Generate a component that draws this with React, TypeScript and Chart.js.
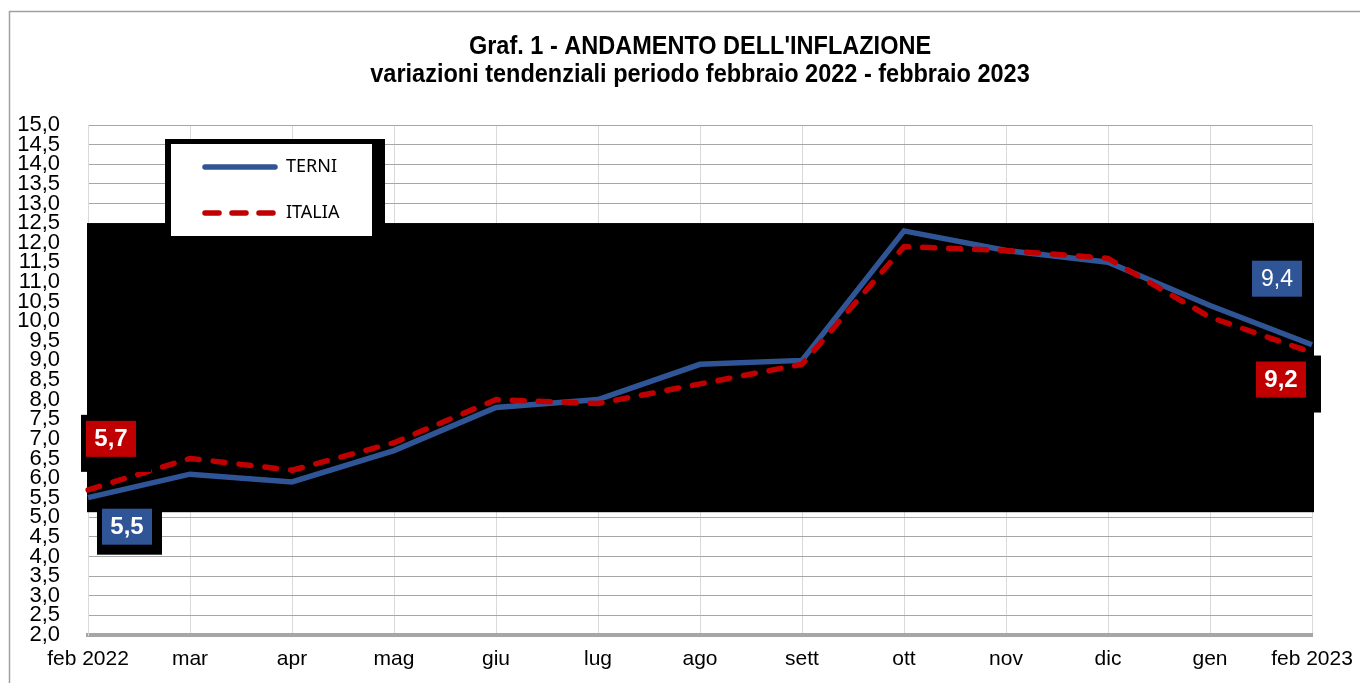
import React, { useEffect, useRef } from "react";
import { Chart, registerables } from "chart.js";

Chart.register(...registerables);

const categories = ["feb 2022", "mar", "apr", "mag", "giu", "lug", "ago", "sett", "ott", "nov", "dic", "gen", "feb 2023"];
const terni = [5.5, 6.1, 5.9, 6.7, 7.8, 8.0, 8.9, 9.0, 12.3, 11.8, 11.5, 10.4, 9.4];
const italia = [5.7, 6.5, 6.2, 6.9, 8.0, 7.9, 8.4, 8.9, 11.9, 11.8, 11.6, 10.1, 9.2];
const titleLines = ["Graf. 1 - ANDAMENTO DELL'INFLAZIONE", "variazioni tendenziali periodo febbraio 2022 - febbraio 2023"];
const seriesNames = ["TERNI", "ITALIA"];
const yMin = 2;
const yMax = 15;
const yStep = 0.5;
const blackBandTop = 12.5;
const blackBandBottom = 5.13;

const BLUE = "#2f5597";
const RED = "#c00000";

const fmt = (v: number) => v.toFixed(1).replace(".", ",");

type LabelSpec = { ds: number; idx: number; dx: number; dy: number; bold: boolean; color: string; shadow?: { l: number; t: number; r: number; b: number } };

const labelSpecs: LabelSpec[] = [
  { ds: 0, idx: 0, dx: 23, dy: -51, bold: true, color: RED, shadow: { l: 5, t: 6, r: 15, b: 15 } },
  { ds: 1, idx: 0, dx: 39, dy: 29, bold: true, color: BLUE, shadow: { l: 5, t: 6, r: 10, b: 10 } },
  { ds: 1, idx: 12, dx: -35, dy: -66, bold: false, color: BLUE },
  { ds: 0, idx: 12, dx: -31, dy: 27, bold: true, color: RED, shadow: { l: 6, t: 6, r: 15, b: 15 } },
];

const overlayPlugin = {
  id: "overlay",
  beforeDraw(chart: any) {
    const ctx = chart.ctx;
    ctx.save();
    ctx.fillStyle = "#ffffff";
    ctx.fillRect(0, 0, chart.width, chart.height);
    ctx.strokeStyle = "#a0a0a0";
    ctx.lineWidth = 1.5;
    ctx.beginPath();
    ctx.moveTo(9.5, chart.height + 5);
    ctx.lineTo(9.5, 11.5);
    ctx.lineTo(chart.width + 5, 11.5);
    ctx.stroke();
    ctx.fillStyle = "#000000";
    ctx.font = "bold 25px 'Liberation Sans', Arial, sans-serif";
    ctx.textAlign = "center";
    ctx.textBaseline = "middle";
    const ys = [47, 75];
    titleLines.forEach((t, i) => {
      ctx.save();
      ctx.translate(700, ys[i]);
      ctx.scale(0.94, 1);
      ctx.fillText(t, 0, 0);
      ctx.restore();
    });
    ctx.restore();
  },
  beforeDatasetsDraw(chart: any) {
    const ctx = chart.ctx;
    const y = chart.scales.y;
    const a = chart.chartArea;
    ctx.save();
    ctx.fillStyle = "#000000";
    const top = y.getPixelForValue(blackBandTop);
    const bot = y.getPixelForValue(blackBandBottom);
    ctx.fillRect(a.left - 1, top, a.right - a.left + 3, bot - top);
    ctx.restore();
  },
  afterDatasetsDraw(chart: any) {
    const ctx = chart.ctx;
    ctx.save();
    // legend
    ctx.fillStyle = "#000000";
    ctx.fillRect(165, 139, 220, 104);
    ctx.fillStyle = "#ffffff";
    ctx.fillRect(171, 144, 201, 92);
    ctx.lineCap = "round";
    ctx.lineWidth = 5.5;
    ctx.strokeStyle = BLUE;
    ctx.beginPath();
    ctx.moveTo(205, 167);
    ctx.lineTo(275, 167);
    ctx.stroke();
    ctx.strokeStyle = RED;
    ctx.setLineDash([14, 13]);
    ctx.beginPath();
    ctx.moveTo(205, 213);
    ctx.lineTo(275, 213);
    ctx.stroke();
    ctx.setLineDash([]);
    ctx.fillStyle = "#000000";
    ctx.font = "18px 'Noto Sans', sans-serif";
    ctx.textAlign = "left";
    ctx.textBaseline = "middle";
    ctx.fillText(seriesNames[0], 286, 167);
    ctx.fillText(seriesNames[1], 286, 213);

    // data labels
    labelSpecs.forEach((s) => {
      const meta = chart.getDatasetMeta(s.ds);
      const pt = meta.data[s.idx];
      const value = chart.data.datasets[s.ds].data[s.idx] as number;
      const cx = pt.x + s.dx;
      const cy = pt.y + s.dy;
      const w = 50, h = 36;
      const x0 = cx - w / 2, y0 = cy - h / 2;
      if (s.shadow) {
        ctx.fillStyle = "#000000";
        ctx.fillRect(x0 - s.shadow.l, y0 - s.shadow.t, w + s.shadow.l + s.shadow.r, h + s.shadow.t + s.shadow.b);
      }
      ctx.fillStyle = s.color;
      ctx.fillRect(x0, y0, w, h);
      ctx.fillStyle = "#ffffff";
      ctx.font = (s.bold ? "bold 24px" : "23px") + " 'Liberation Sans', Arial, sans-serif";
      ctx.textAlign = "center";
      ctx.textBaseline = "middle";
      ctx.fillText(fmt(value), cx, cy + 1);
    });
    ctx.restore();
  },
};

export default function App() {
  const ref = useRef<HTMLCanvasElement | null>(null);
  useEffect(() => {
    if (!ref.current) return;
    const chart = new Chart(ref.current, {
      type: "line",
      data: {
        labels: categories,
        datasets: [
          {
            label: seriesNames[1],
            data: italia,
            borderColor: RED,
            borderWidth: 5.5,
            borderDash: [12, 14],
            borderCapStyle: "round",
            borderJoinStyle: "round",
            pointRadius: 0,
            tension: 0,
            fill: false,
          },
          {
            label: seriesNames[0],
            data: terni,
            borderColor: BLUE,
            borderWidth: 5.5,
            borderJoinStyle: "miter",
            pointRadius: 0,
            tension: 0,
            fill: false,
          },
        ],
      },
      options: {
        responsive: false,
        animation: false,
        devicePixelRatio: 1,
        layout: { padding: { left: 0, right: 48, top: 125, bottom: 0 } },
        plugins: { legend: { display: false }, title: { display: false }, tooltip: { enabled: false } },
        scales: {
          x: {
            offset: false,
            grid: { color: "#d9d9d9", lineWidth: 1, drawTicks: false, offset: false },
            border: { display: true, color: "#a6a6a6", width: 4 },
            ticks: {
              color: "#000000",
              font: { family: "'Liberation Sans', Arial, sans-serif", size: 21 },
              padding: 12,
              autoSkip: false,
              maxRotation: 0,
            },
            afterFit: (s: any) => {
              s.height = 48;
              s.paddingLeft = 0;
              s.paddingRight = 0;
            },
          },
          y: {
            min: yMin,
            max: yMax,
            grid: { color: "#a6a6a6", lineWidth: 1, drawTicks: false },
            border: { display: true, color: "#d9d9d9", width: 1 },
            ticks: {
              stepSize: yStep,
              autoSkip: false,
              color: "#000000",
              font: { family: "'Liberation Sans', Arial, sans-serif", size: 22 },
              padding: 28,
              callback: (v: any) => fmt(Number(v)),
            },
            afterFit: (s: any) => {
              s.width = 88;
              s.paddingTop = 0;
              s.paddingBottom = 0;
            },
          },
        },
      },
      plugins: [overlayPlugin],
    } as any);
    return () => chart.destroy();
  }, []);
  return (
    <div style={{ position: "fixed", left: 0, top: 0, width: 1360, height: 683 }}>
      <canvas ref={ref} width={1360} height={683} style={{ display: "block" }} />
    </div>
  );
}
